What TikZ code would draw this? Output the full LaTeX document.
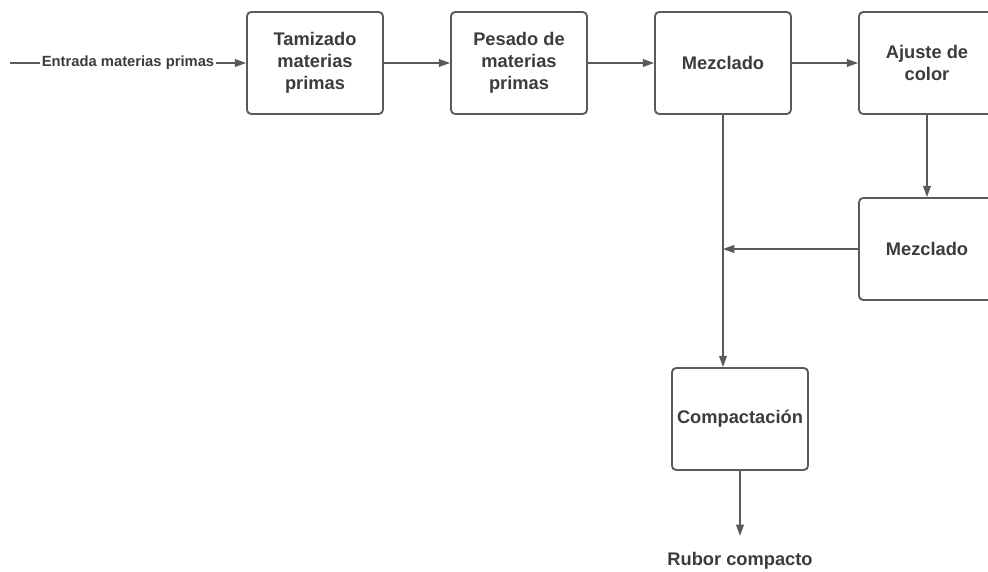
\documentclass[tikz,border=0pt]{standalone}
\usepackage{fontspec}
\setmainfont{Liberation Sans}
\usetikzlibrary{arrows.meta,positioning,calc}
\definecolor{linegray}{HTML}{5A5A5A}
\definecolor{textgray}{HTML}{3C3C3C}

\begin{document}
\begin{tikzpicture}[x=0.025cm,y=-0.025cm,thick,
    >={Triangle[length=8pt,width=5.5pt]}]
    \tikzstyle{proc}=[rectangle, rounded corners=3pt, draw=linegray, line width=1.3pt,
      fill=white, minimum width=3.4cm, minimum height=2.55cm, align=center,
      text=textgray, font=\bfseries\fontsize{13}{15.6}\selectfont]
    \tikzstyle{lbl}=[text=textgray, font=\bfseries\fontsize{13}{15.6}\selectfont]
    \tikzstyle{flow}=[->, draw=linegray, line width=1.1pt]

    \useasboundingbox (0,0) rectangle (988,572);
    \clip (0,0) rectangle (988,572);

    \node[proc]   (tam)   at (315,63)  {Tamizado\\materias\\primas};
    \node[proc]   (pes)   at (519,63)  {Pesado de\\materias\\primas};
    \node[proc]   (mez)   at (723,63)  {Mezclado};
    \node[proc]   (aju)   at (927,63)  {Ajuste de\\color};
    \node[proc]   (mez2)  at (927,249) {Mezclado};
    \node[proc]   (comp)  at (740,419) {Compactación};
    \node[lbl]    (rub)   at (740,561) {Rubor compacto};
    \coordinate   (ini)   at (10,63);

    \draw[flow] (ini) -- node[fill=white, inner sep=1pt, text=textgray,
      font=\bfseries\fontsize{10.5}{12}\selectfont] {Entrada materias primas} (tam);
    \draw[flow] (tam) -- (pes);
    \draw[flow] (pes) -- (mez);
    \draw[flow] (mez) -- (aju);
    \draw[flow] (aju) -- (mez2);
    \draw[flow] (mez2) -- (mez.south |- mez2.west);
    \draw[flow] (mez.south) -- (mez.south |- comp.north);
    \draw[flow] (comp.south) -- ++(0,65);

  \end{tikzpicture}
\end{document}
